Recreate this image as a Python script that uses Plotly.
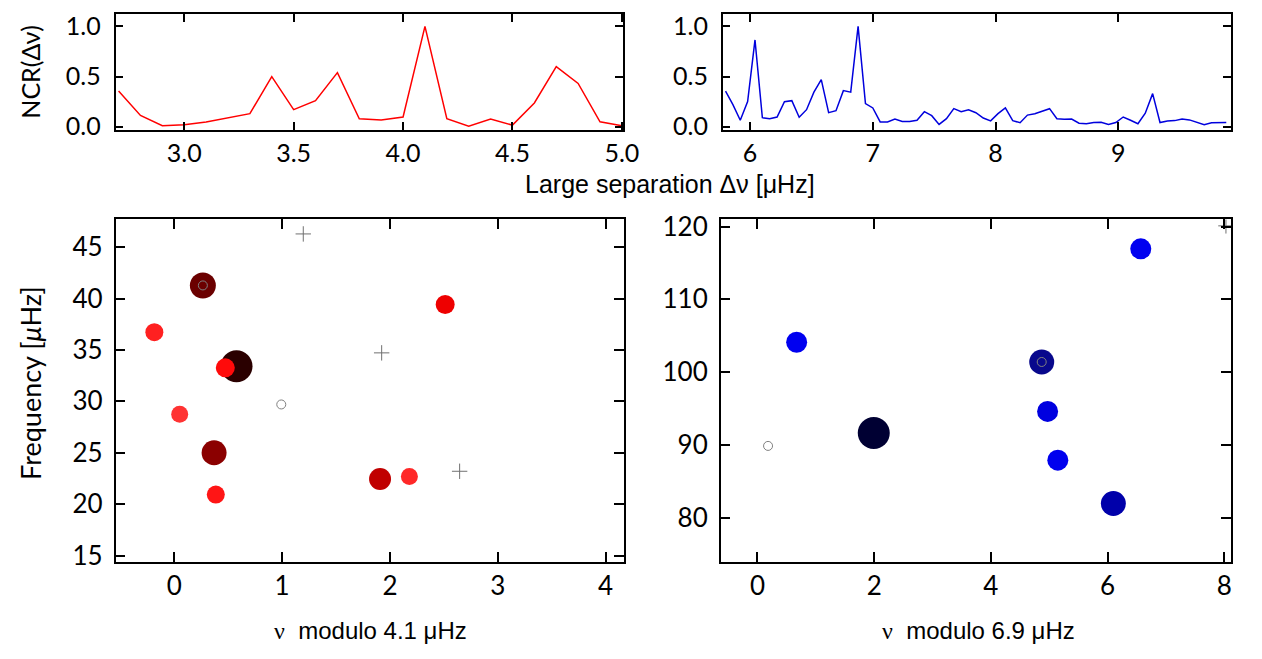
import plotly.graph_objects as go

# ---------------- data ----------------
# Top-left: NCR vs large separation (red)
dnu_red = [2.7, 2.8, 2.9, 3.0, 3.1, 3.2, 3.3, 3.4, 3.5, 3.6, 3.7, 3.8, 3.9, 4.0,
           4.1, 4.2, 4.3, 4.4, 4.5, 4.6, 4.7, 4.8, 4.9, 5.0]
ncr_red = [0.355, 0.113, 0.01, 0.02, 0.048, 0.09, 0.13, 0.50, 0.17, 0.26, 0.54, 0.08,
           0.068, 0.097, 1.0, 0.08, 0.006, 0.077, 0.016, 0.237, 0.60, 0.432, 0.049, 0.01]

# Top-right: NCR vs large separation (blue)
dnu_blue = [5.80, 5.86, 5.92, 5.98, 6.04, 6.10, 6.16, 6.22, 6.28, 6.34, 6.40, 6.46,
            6.52, 6.58, 6.64, 6.70, 6.76, 6.82, 6.88, 6.94, 7.00, 7.06, 7.12, 7.18,
            7.24, 7.30, 7.36, 7.42, 7.48, 7.54, 7.60, 7.66, 7.72, 7.78, 7.84, 7.90,
            7.96, 8.02, 8.08, 8.14, 8.20, 8.26, 8.32, 8.38, 8.44, 8.50, 8.56, 8.62,
            8.68, 8.74, 8.80, 8.86, 8.92, 8.98, 9.04, 9.10, 9.16, 9.22, 9.28, 9.34,
            9.40, 9.46, 9.52, 9.58, 9.64, 9.70, 9.76, 9.82, 9.88]
ncr_blue = [0.355, 0.22, 0.065, 0.25, 0.865, 0.09, 0.08, 0.097, 0.25, 0.26, 0.094, 0.17,
            0.345, 0.47, 0.14, 0.16, 0.36, 0.345, 1.0, 0.23, 0.187, 0.048, 0.048, 0.077,
            0.052, 0.052, 0.065, 0.15, 0.11, 0.023, 0.08, 0.18, 0.15, 0.168, 0.14, 0.087,
            0.058, 0.13, 0.187, 0.06, 0.04, 0.116, 0.13, 0.155, 0.18, 0.08, 0.074, 0.077,
            0.035, 0.03, 0.042, 0.045, 0.023, 0.042, 0.097, 0.065, 0.03, 0.135, 0.33, 0.042,
            0.058, 0.061, 0.077, 0.068, 0.042, 0.02, 0.039, 0.042, 0.042]

# Bottom-left echelle (modulo 4.1 uHz)
ech1_x = [0.577, 0.265, 0.369, 1.908, 2.512, 0.473, -0.185, 0.385, 0.05, 2.18]
ech1_y = [33.42, 41.28, 25.00, 22.44, 39.42, 33.26, 36.73, 20.93, 28.75, 22.70]
ech1_size = [32, 26, 25, 22, 19, 19, 18, 18, 17, 17]
ech1_color = ["#2a0000", "#6b0000", "#8b0000", "#c00000", "#ee0000", "#ff0a0a",
              "#ff2020", "#ff1515", "#ff3333", "#ff2828"]
ech1_open_x = [0.265, 0.992]
ech1_open_y = [41.28, 29.70]
ech1_plus_x = [1.196, 1.923, 2.646]
ech1_plus_y = [46.29, 34.72, 23.20]

# Bottom-right echelle (modulo 6.9 uHz)
ech2_x = [1.993, 6.10, 4.872, 4.973, 5.148, 6.57, 0.671]
ech2_y = [91.64, 81.96, 101.40, 94.61, 87.91, 116.94, 104.11]
ech2_size = [32, 25, 25, 21, 21, 21, 21]
ech2_color = ["#000033", "#0000aa", "#08088c", "#0000e0", "#0000ee", "#0000f0", "#0000f0"]
ech2_open_x = [4.872, 0.181]
ech2_open_y = [101.40, 89.87]
ech2_plus_x = [8.03]
ech2_plus_y = [120.1]

# ---------------- layout helpers ----------------
W, H = 1262, 659
def dx(a, b):
    return [a / W, b / W]
def dy(top, bottom):
    return [1 - bottom / H, 1 - top / H]

SANS = "Lato, Noto Sans, sans-serif"
TICKFONT = dict(family=SANS, size=25, color="black")
TICKFONT_B = dict(family=SANS, size=26, color="black")

def ax(domain, rng, dtick, fmt=None, tickfont=TICKFONT, ticklen=9, anchor=None, standoff=0):
    d = dict(domain=domain, range=rng, dtick=dtick, tick0=0, showgrid=False,
             zeroline=False, showline=True, linecolor="black", linewidth=1.5,
             mirror="ticks", ticks="inside", ticklen=ticklen, tickwidth=1.8,
             tickcolor="black", tickfont=tickfont, ticklabelstandoff=standoff)
    if fmt:
        d["tickformat"] = fmt
    if anchor:
        d["anchor"] = anchor
    return d

fig = go.Figure()

fig.add_trace(go.Scatter(x=dnu_red, y=ncr_red, mode="lines",
                         line=dict(color="#ff0000", width=1.5),
                         xaxis="x", yaxis="y", showlegend=False))
fig.add_trace(go.Scatter(x=dnu_blue, y=ncr_blue, mode="lines",
                         line=dict(color="#0000dd", width=1.5),
                         xaxis="x2", yaxis="y2", showlegend=False))

def dots(xs, ys, sizes, colors, xa, ya):
    fig.add_trace(go.Scatter(x=xs, y=ys, mode="markers",
                             marker=dict(size=sizes, color=colors, opacity=1,
                                         line=dict(width=0)),
                             xaxis=xa, yaxis=ya, showlegend=False))

def opens(xs, ys, xa, ya):
    fig.add_trace(go.Scatter(x=xs, y=ys, mode="markers",
                             marker=dict(size=9, symbol="circle-open", color="#808080",
                                         opacity=1, line=dict(width=1)),
                             xaxis=xa, yaxis=ya, showlegend=False))

def pluses(xs, ys, xa, ya):
    fig.add_trace(go.Scatter(x=xs, y=ys, mode="markers",
                             marker=dict(size=11, symbol="cross-thin-open", color="#707070",
                                         opacity=1, line=dict(width=1, color="#707070")),
                             xaxis=xa, yaxis=ya, showlegend=False))

dots(ech1_x, ech1_y, ech1_size, ech1_color, "x3", "y3")
opens(ech1_open_x, ech1_open_y, "x3", "y3")
pluses(ech1_plus_x, ech1_plus_y, "x3", "y3")
dots(ech2_x, ech2_y, ech2_size, ech2_color, "x4", "y4")
opens(ech2_open_x, ech2_open_y, "x4", "y4")
pluses(ech2_plus_x, ech2_plus_y, "x4", "y4")

fig.update_layout(
    autosize=True, margin=dict(l=0, r=0, t=0, b=0, pad=0),
    paper_bgcolor="white", plot_bgcolor="white",
    xaxis=ax(dx(117, 631), [2.686, 5.005], 0.5, ".1f", anchor="y", ticklen=8, standoff=0),
    yaxis=ax(dy(4, 124), [-0.035, 1.125], 0.5, ".1f", anchor="x", ticklen=8, standoff=8),
    xaxis2=ax(dx(732, 1247), [5.777, 9.92], 1, anchor="y2", ticklen=8, standoff=0),
    yaxis2=ax(dy(4, 124), [-0.035, 1.125], 0.5, ".1f", anchor="x2", ticklen=8, standoff=8),
    xaxis3=ax(dx(117, 632), [-0.545, 4.17], 1, tickfont=TICKFONT_B, anchor="y3", ticklen=10, standoff=0),
    yaxis3=ax(dy(216, 569), [14.4, 47.7], 5, tickfont=TICKFONT_B, anchor="x3", ticklen=10, standoff=6),
    xaxis4=ax(dx(730, 1247), [-0.63, 8.12], 2, tickfont=TICKFONT_B, anchor="y4", ticklen=10, standoff=0),
    yaxis4=ax(dy(216, 569), [73.96, 120.98], 10, tickfont=TICKFONT_B, anchor="x4", ticklen=10, standoff=6),
)

def label(text, px, py, size, family, angle=0):
    fig.add_annotation(text=text, x=px / W, y=1 - py / H, xref="paper", yref="paper",
                       showarrow=False, textangle=angle, xanchor="center", yanchor="middle",
                       font=dict(family=family, size=size, color="black"))

label("NCR(Δν)", 30, 64, 25, SANS, -90)
label("Large separation Δν [μHz]", 679, 179, 25, "Liberation Sans Narrow, Liberation Sans, sans-serif")
label("Frequency [<i>μ</i>Hz]", 31, 385, 27, SANS, -90)
label("<span style='font-family:Liberation Serif'>ν</span>  modulo 4.1 μHz", 375, 640, 24,
      "Liberation Sans, Arial, sans-serif")
label("<span style='font-family:Liberation Serif'>ν</span>  modulo 6.9 μHz", 991, 640, 24,
      "Liberation Sans, Arial, sans-serif")

fig.write_html(
    "out.html",
    config={"displayModeBar": False, "responsive": True},
    default_width="100vw",
    default_height="100vh",
    post_script=(
        "document.documentElement.style.margin='0';"
        "document.documentElement.style.overflow='hidden';"
        "document.body.style.margin='0';document.body.style.overflow='hidden';"
        "window.dispatchEvent(new Event('resize'));"
    ),
)
